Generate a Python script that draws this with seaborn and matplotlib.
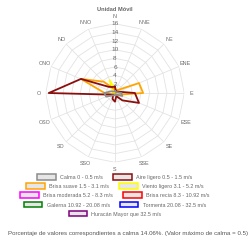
import numpy as np
import pandas as pd
import seaborn as sns
import matplotlib.pyplot as plt
from matplotlib.patches import Patch

direcciones = ['N', 'NNE', 'NE', 'ENE', 'E', 'ESE', 'SE', 'SSE',
               'S', 'SSO', 'SO', 'OSO', 'O', 'ONO', 'NO', 'NNO']

series = ['Calma 0 - 0.5 m/s', 'Aire ligero 0.5 - 1.5 m/s', 'Brisa suave 1.5 - 3.1 m/s',
          'Viento ligero 3.1 - 5.2 m/s', 'Brisa moderada 5.2 - 8.3 m/s', 'Brisa recia 8.3 - 10.92 m/s',
          'Galerna 10.92 - 20.08 m/s', 'Tormenta 20.08 - 32.5 m/s', 'Huracán Mayor que 32.5 m/s']
colores = ['#8c8c8c', '#8b0e0e', '#ffa500', '#ffff00', '#ff00ff', '#ff0000', '#008000', '#0000ff', '#800080']

calma = [0.5, 0.3, 0.3, 0.5, 1.5, 1.8, 0.6, 0.3, 0.5, 0.6, 0.8, 2.2, 2.5, 1.0, 0.5, 0.4]
aire_ligero = [1.5, 0.5, 0.5, 0.8, 4.6, 6.0, 2.4, 0.8, 2.0, 1.5, 0.6, 1.0, 15.3, 8.5, 2.0, 1.5]
brisa_suave = [0.8, 0.8, 1.0, 6.0, 6.5, 1.0, 0.5, 0.3, 0.3, 0.3, 0.3, 0.8, 2.4, 8.5, 3.7, 1.2]
viento_ligero = [0.8, 0.2, 0.1, 0.2, 0.2, 0.1, 0.1, 0.0, 0.0, 0.0, 0.0, 0.1, 0.2, 0.5, 0.8, 3.2]
cero = [0.0] * 16
valores = [calma, aire_ligero, brisa_suave, viento_ligero, cero, cero, cero, cero, cero]

angulos = np.linspace(0, 2 * np.pi, 16, endpoint=False)
cerrado = np.append(angulos, 2 * np.pi)

# long table, each polygon closed back on N
frames = []
for serie, vals in zip(series, valores):
    frames.append(pd.DataFrame({'serie': serie, 'theta': cerrado, 'valor': vals + vals[:1]}))
df = pd.concat(frames, ignore_index=True)

sns.set_style('white')
plt.rcParams['font.family'] = ['Liberation Sans', 'DejaVu Sans']
fig = plt.figure(figsize=(2.51, 2.41), dpi=100)
ax = fig.add_axes([0.1821, 0.3266, 0.552, 0.575], projection='polar')
ax.set_theta_zero_location('N')
ax.set_theta_direction(-1)
ax.set_ylim(0, 16)
ax.grid(False)
ax.spines['polar'].set_visible(False)
ax.set_xticks([])
ax.set_yticks([])

# polygon grid like Chart.js
anillos = np.arange(2, 17, 2)
for r in anillos:
    ax.plot(cerrado, [r] * 17, color='#e3e3e3', lw=0.6, zorder=0)
for a in angulos:
    ax.plot([a, a], [0, 16], color='#e3e3e3', lw=0.6, zorder=0)

# draw in reverse so the first series sit on top
for serie, color in reversed(list(zip(series, colores))):
    sub = df[df['serie'] == serie]
    sns.lineplot(data=sub, x='theta', y='valor', sort=False, color=color, lw=1.3, ax=ax,
                 legend=False, zorder=3)
ax.set_xlabel('')
ax.set_ylabel('')

for r in anillos:
    ax.text(0, r, str(r), ha='center', va='center', fontsize=4.6, color='#666666', zorder=5)
for a, d in zip(angulos, direcciones):
    ax.text(a, 17.6, d, ha='center', va='center', fontsize=3.9, color='#666666')

fig.text(0.458, 0.962, 'Unidad Móvil', ha='center', va='center', fontsize=4.1,
         fontweight='bold', color='#666666')

def entrada(i):
    return Patch(facecolor='#e6e6e6', edgecolor=colores[i], lw=1.1, label=series[i])

filas_leyenda = [([0, 1], 0.265), ([2, 3], 0.228), ([4, 5], 0.19), ([6, 7], 0.15), ([8], 0.112)]
for idx, y in filas_leyenda:
    fig.legend(handles=[entrada(i) for i in idx], loc='center', bbox_to_anchor=(0.458, y),
               ncol=len(idx), frameon=False, fontsize=3.9, handlelength=3.4, handleheight=1.1,
               handletextpad=0.8, columnspacing=1.9, labelcolor='#666666', borderpad=0)

fig.text(0.512, 0.03, 'Porcentaje de valores correspondientes a calma 14.06%. (Valor máximo de calma = 0.5)',
         ha='center', va='center', fontsize=4.45, color='#555555')

fig.savefig('out.png', dpi=100)
